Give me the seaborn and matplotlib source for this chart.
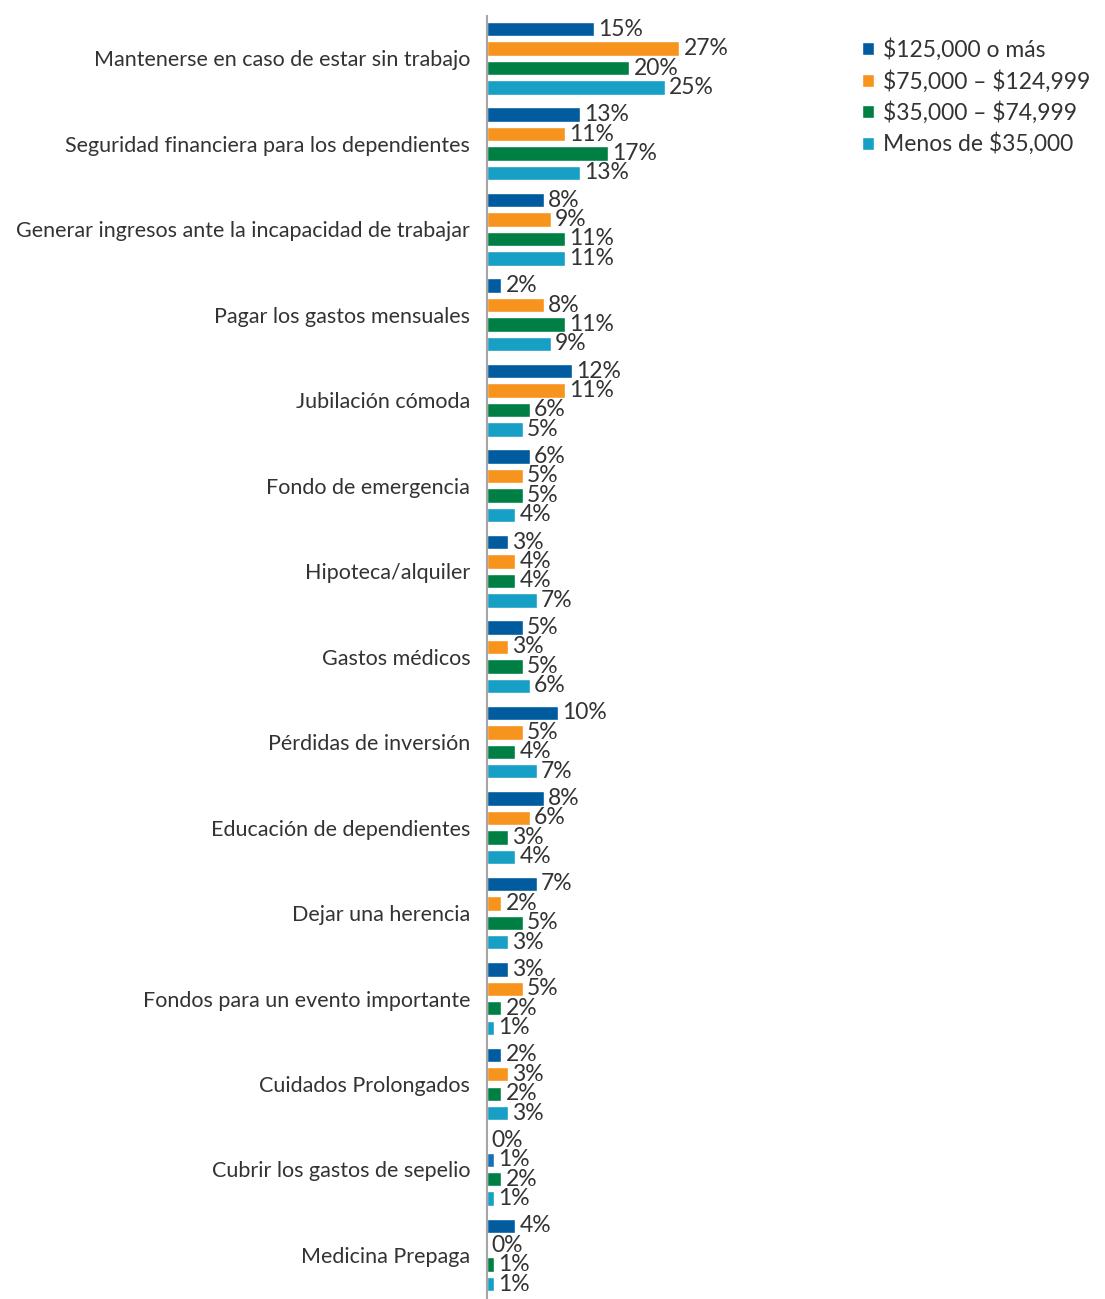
import pandas as pd
import matplotlib.pyplot as plt
import seaborn as sns
from matplotlib.patches import Patch

categories = [
    'Mantenerse en caso de estar sin trabajo',
    'Seguridad financiera para los dependientes',
    'Generar ingresos ante la incapacidad de trabajar',
    'Pagar los gastos mensuales',
    'Jubilación cómoda',
    'Fondo de emergencia',
    'Hipoteca/alquiler',
    'Gastos médicos',
    'Pérdidas de inversión',
    'Educación de dependientes',
    'Dejar una herencia',
    'Fondos para un evento importante',
    'Cuidados Prolongados',
    'Cubrir los gastos de sepelio',
    'Medicina Prepaga',
]
series = ['$125,000 o más', '$75,000 – $124,999', '$35,000 – $74,999', 'Menos de $35,000']
high = [15, 13, 8, 2, 12, 6, 3, 5, 10, 8, 7, 3, 2, 0, 4]
upper_mid = [27, 11, 9, 8, 11, 5, 4, 3, 5, 6, 2, 5, 3, 1, 0]
lower_mid = [20, 17, 11, 11, 6, 5, 4, 5, 4, 3, 5, 2, 2, 2, 1]
low = [25, 13, 11, 9, 5, 4, 7, 6, 7, 4, 3, 1, 3, 1, 1]
colors = ['#005b9f', '#f7941d', '#007f45', '#179fc6']

rows = []
for s, vals in zip(series, [high, upper_mid, lower_mid, low]):
    for c, v in zip(categories, vals):
        rows.append({'cat': c, 'serie': s, 'valor': v})
df = pd.DataFrame(rows)

sns.set_style('white')
plt.rcParams['font.family'] = ['Lato', 'DejaVu Sans']
plt.rcParams['text.parse_math'] = False

fig = plt.figure(figsize=(11.05, 12.99), dpi=100)
ax = fig.add_axes([0.4407, 0.001, 0.29, 0.987])

sns.barplot(data=df, y='cat', x='valor', hue='serie', order=categories,
            hue_order=series, palette=colors, orient='h', width=0.91,
            gap=0.26, saturation=1, ax=ax, legend=False)

# la barra de 1% en sepelio aparece azul en el original
ax.containers[1][13].set_facecolor('#1a6fb3')

for cont in ax.containers:
    ax.bar_label(cont, fmt='%d%%', padding=3, fontsize=16.5, color='#333333')

ax.set_xlim(0, 45)
ax.set_ylim(14.5, -0.5)
ax.set_xlabel('')
ax.set_ylabel('')
ax.set_xticks([])
for side in ['top', 'right', 'bottom']:
    ax.spines[side].set_visible(False)
ax.spines['left'].set_color('#a6a6a6')
ax.spines['left'].set_linewidth(1.5)
ax.tick_params(axis='y', which='major', length=0, pad=12, labelsize=15.5,
               labelcolor='#333333')
ax.set_yticks([i + 0.5 for i in range(-1, 15)], minor=True)
ax.tick_params(axis='y', which='minor', length=5, width=1.5, color='#a6a6a6',
               direction='out')

handles = [Patch(facecolor=c, label=s) for c, s in zip(colors, series)]
fig.legend(handles=handles, loc='upper left', bbox_to_anchor=(0.768, 0.981),
           frameon=False, fontsize=16.5, handlelength=0.5, handleheight=0.5,
           handletextpad=0.4, labelspacing=0.38, labelcolor='#333333',
           borderaxespad=0.2)

plt.savefig('out.png', dpi=100)
